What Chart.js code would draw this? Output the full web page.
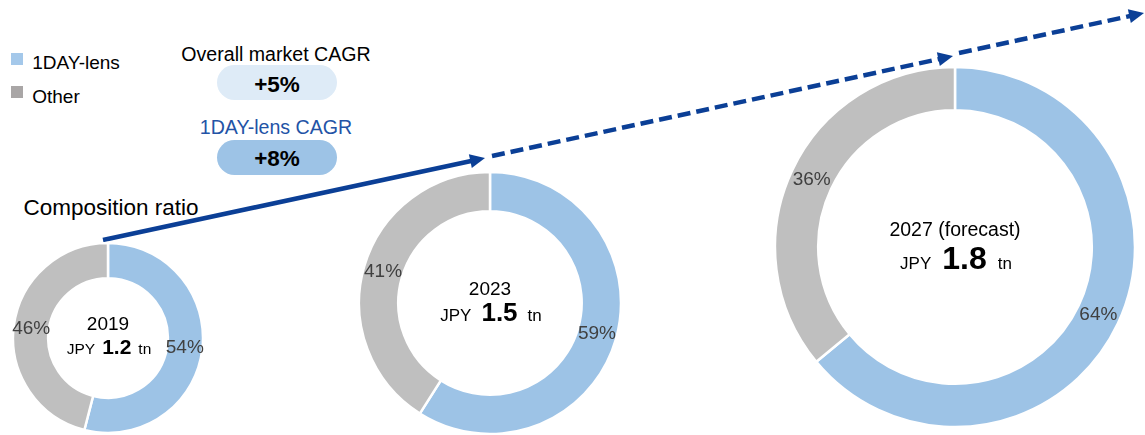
<!DOCTYPE html>
<html>
<head>
<meta charset="utf-8">
<script src="https://cdn.jsdelivr.net/npm/chart.js@4.4.0/dist/chart.umd.min.js"></script>
<style>
  html, body { margin:0; padding:0; background:#fff; }
  body { width:1145px; height:435px; position:relative; overflow:hidden;
         font-family:"Liberation Sans", Arial, sans-serif; color:#000; }
  .abs { position:absolute; white-space:nowrap; }
  .c { transform:translate(-50%,-50%); line-height:1; }
  canvas { position:absolute; }
  .pill { position:absolute; border-radius:18px; display:flex; align-items:center; justify-content:center;
          font-weight:bold; font-size:22.5px; }
  .sq { position:absolute; width:12px; height:12px; }
</style>
</head>
<body>
<svg id="arrows" width="1145" height="435" style="position:absolute;left:0;top:0;"></svg>

<div class="sq" style="left:11px;top:53px;background:#A4C8EA;"></div>
<div class="abs c" style="left:76px;top:62px;font-size:19px;">1DAY-lens</div>
<div class="sq" style="left:11px;top:86px;background:#A9A6A6;"></div>
<div class="abs c" style="left:56px;top:96px;font-size:19px;">Other</div>

<div class="abs c" style="left:276px;top:55px;font-size:19.6px;">Overall market CAGR</div>
<div class="pill" style="left:217px;top:65px;width:120px;height:35px;background:#DEEBF7;"><span id="cagr1" style="position:relative;top:2px"></span></div>
<div class="abs c" style="left:276px;top:128px;font-size:19.6px;color:#2353A6;">1DAY-lens CAGR</div>
<div class="pill" style="left:217px;top:140px;width:120px;height:35px;background:#9DC3E6;"><span id="cagr2" style="position:relative;top:1px"></span></div>

<div class="abs c" style="left:111px;top:208px;font-size:22.5px;">Composition ratio</div>

<canvas id="d0"></canvas>
<canvas id="d1"></canvas>
<canvas id="d2"></canvas>

<div id="centers"></div>

<script>
// ---- data ----
const categories = ['1DAY-lens', 'Other'];
const years = ['2019', '2023', '2027 (forecast)'];
const oneDayShare = [54, 59, 64];
const otherShare = [46, 41, 36];
const marketSize = ['1.2', '1.5', '1.8'];
const marketCAGR = '+5%';
const oneDayCAGR = '+8%';

document.getElementById('cagr1').textContent = marketCAGR;
document.getElementById('cagr2').textContent = oneDayCAGR;

// ---- layout (positions / sizes) ----
const rings = [
  { cx:108, cy:338, r:95,  cut:'63%', yearFs:19, jpyFs:15.5, numFs:21, gap:7, yearY:323, lineY:346 },
  { cx:490, cy:303, r:131, cut:'70%', yearFs:19, jpyFs:17, numFs:26, gap:10, yearY:288, lineY:312 },
  { cx:955, cy:247, r:180, cut:'76%', yearFs:19.5, jpyFs:17, numFs:32, gap:11, yearY:230, lineY:258 }
];

const arcLabels = {
  id:'arcLabels',
  afterDatasetsDraw(chart){
    const ctx = chart.ctx;
    const ds = chart.data.datasets[0];
    const meta = chart.getDatasetMeta(0);
    ctx.save();
    ctx.font = '19px "Liberation Sans", Arial, sans-serif';
    ctx.fillStyle = '#404040';
    ctx.textAlign = 'center';
    ctx.textBaseline = 'middle';
    meta.data.forEach((arc, i) => {
      const p = arc.tooltipPosition(true);
      ctx.fillText(ds.data[i] + '%', p.x, p.y);
    });
    ctx.restore();
  }
};

const centers = document.getElementById('centers');
rings.forEach((g, i) => {
  const size = 2 * g.r + 4;
  const cv = document.getElementById('d' + i);
  cv.width = size; cv.height = size;
  cv.style.left = (g.cx - size / 2) + 'px';
  cv.style.top = (g.cy - size / 2) + 'px';
  cv.style.width = size + 'px'; cv.style.height = size + 'px';
  new Chart(cv, {
    type:'doughnut',
    data:{
      labels: categories,
      datasets:[{
        data:[oneDayShare[i], otherShare[i]],
        backgroundColor:['#9DC3E6', '#BFBFBF'],
        borderColor:'#ffffff',
        borderWidth:2.5
      }]
    },
    options:{
      responsive:false,
      animation:false,
      radius:g.r,
      cutout:g.cut,
      layout:{ padding:0 },
      plugins:{ legend:{ display:false }, tooltip:{ enabled:false } }
    },
    plugins:[arcLabels]
  });

  const y = document.createElement('div');
  y.className = 'abs c';
  y.style.left = g.cx + 'px'; y.style.top = g.yearY + 'px';
  y.style.fontSize = g.yearFs + 'px';
  y.textContent = years[i];
  centers.appendChild(y);

  const l = document.createElement('div');
  l.className = 'abs c';
  l.style.left = (g.cx + 1) + 'px'; l.style.top = g.lineY + 'px';
  l.innerHTML = '<span style="font-size:' + g.jpyFs + 'px;margin-right:' + g.gap + 'px">JPY</span>' +
                '<span style="font-size:' + g.numFs + 'px;font-weight:bold;margin-right:' + g.gap + 'px">' + marketSize[i] + '</span>' +
                '<span style="font-size:' + g.jpyFs + 'px">tn</span>';
  centers.appendChild(l);
});

// ---- arrows ----
const svg = document.getElementById('arrows');
const NS = 'http://www.w3.org/2000/svg';
const col = '#0B3F96';
function arrow(x1, y1, x2, y2, dashed){
  const ang = Math.atan2(y2 - y1, x2 - x1);
  const hl = 15, hw = 7;
  const bx = x2 - hl * Math.cos(ang), by = y2 - hl * Math.sin(ang);
  const ln = document.createElementNS(NS, 'line');
  ln.setAttribute('x1', x1); ln.setAttribute('y1', y1);
  ln.setAttribute('x2', bx + 2 * Math.cos(ang)); ln.setAttribute('y2', by + 2 * Math.sin(ang));
  ln.setAttribute('stroke', col); ln.setAttribute('stroke-width', 4.5);
  if (dashed) ln.setAttribute('stroke-dasharray', '13 6');
  svg.appendChild(ln);
  const px = -Math.sin(ang), py = Math.cos(ang);
  const poly = document.createElementNS(NS, 'polygon');
  poly.setAttribute('points', [x2, y2, bx + px * hw, by + py * hw, bx - px * hw, by - py * hw].join(' '));
  poly.setAttribute('fill', col);
  svg.appendChild(poly);
}
arrow(103, 240, 485, 158, false);
arrow(492, 156, 953, 56, true);
arrow(959, 53, 1144, 13, true);
</script>
</body>
</html>
